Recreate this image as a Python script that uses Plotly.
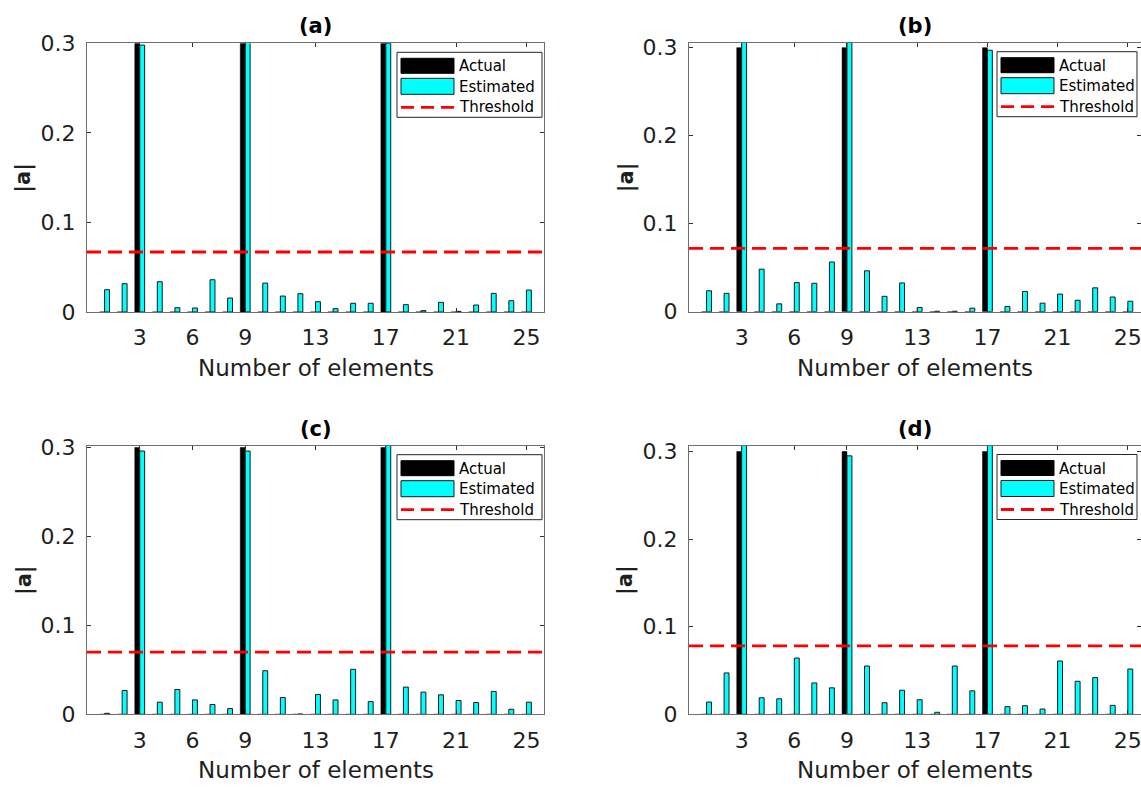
import plotly.graph_objects as go

W, H = 1141, 788

# ---- data -----------------------------------------------------------------
elements = list(range(1, 26))
actual = [0, 0, 0.3, 0, 0, 0, 0, 0, 0.3, 0, 0, 0, 0,
          0, 0, 0, 0.3, 0, 0, 0, 0, 0, 0, 0, 0]

est_a = [0.0249, 0.0316, 0.298, 0.0338, 0.0048, 0.0045, 0.0360, 0.0156, 0.302,
         0.0323, 0.0178, 0.0204, 0.0115, 0.0037, 0.0097, 0.0097, 0.300, 0.0082,
         0.0015, 0.0108, 0.0007, 0.0078, 0.0208, 0.0126, 0.0245]
est_b = [0.0238, 0.0208, 0.307, 0.0483, 0.0089, 0.0331, 0.0323, 0.0565, 0.307,
         0.0465, 0.0175, 0.0327, 0.0048, 0.0005, 0.0005, 0.0040, 0.297, 0.0060,
         0.0230, 0.0097, 0.0200, 0.0130, 0.0271, 0.0167, 0.0119]
est_c = [0.0011, 0.0268, 0.296, 0.0136, 0.0279, 0.0162, 0.0110, 0.0064, 0.296,
         0.0490, 0.0189, 0.0003, 0.0223, 0.0162, 0.0506, 0.0143, 0.304, 0.0306,
         0.0249, 0.0219, 0.0155, 0.0132, 0.0257, 0.0057, 0.0136]
est_d = [0.0140, 0.0472, 0.309, 0.0189, 0.0177, 0.0642, 0.0358, 0.0302, 0.295,
         0.0551, 0.0132, 0.0275, 0.0166, 0.0023, 0.0551, 0.0268, 0.309, 0.0087,
         0.0098, 0.0060, 0.0608, 0.0377, 0.0419, 0.0102, 0.0517]

thresholds = [0.067, 0.072, 0.070, 0.078]
panel_titles = ["(a)", "(b)", "(c)", "(d)"]
estimates = [est_a, est_b, est_c, est_d]

x_ticks = [3, 6, 9, 13, 17, 21, 25]
y_ticks = [0, 0.1, 0.2, 0.3]
y_ticktext = ["0", "0.1", "0.2", "0.3"]
y_tops = [0.3, 0.3056, 0.302, 0.3068]
x_ends = [26, 25.75, 26, 25.75]

# axes boxes in pixels: left, right, top, bottom
boxes = [(87, 544, 43.3, 312.0),
         (689, 1141, 42.7, 311.7),
         (87, 544, 445.7, 714.3),
         (689, 1141, 445.5, 714.3)]
# legend boxes in pixels: left, width
legend_boxes = [(397, 145), (997, 140), (397, 145), (997, 140)]

FONT = "DejaVu Sans"
TXT = "#1f1f1f"
AX = "#6e6e6e"


def px_x(p):
    return p / W


def px_y(p):
    return 1 - p / H


fig = go.Figure()
shapes = []
annotations = []

for i in range(4):
    xa = "x" if i == 0 else f"x{i + 1}"
    ya = "y" if i == 0 else f"y{i + 1}"
    left, right, top, bottom = boxes[i]

    fig.add_trace(go.Bar(
        x=elements, y=actual, xaxis=xa, yaxis=ya, name="Actual",
        marker=dict(color="#000000", line=dict(color="#000000", width=0.5)),
        showlegend=False))
    fig.add_trace(go.Bar(
        x=elements, y=estimates[i], xaxis=xa, yaxis=ya, name="Estimated",
        marker=dict(color="#00FFFF", line=dict(color="#1a1a1a", width=1)),
        showlegend=False))
    fig.add_trace(go.Scatter(
        x=[0, 26], y=[thresholds[i], thresholds[i]], xaxis=xa, yaxis=ya,
        mode="lines", name="Threshold",
        line=dict(color="#FF0000", width=2.8, dash="14px,7px"),
        showlegend=False))

    axis_common = dict(
        showline=True, linecolor=AX, linewidth=1, mirror="ticks",
        ticks="inside", ticklen=4, tickcolor="#333333", tickwidth=1,
        showgrid=False, zeroline=False, automargin=False,
        ticklabeloverflow="allow",
        tickfont=dict(family=FONT, size=22, color=TXT),
    )
    fig.layout[xa.replace("x", "xaxis")] = dict(
        domain=[px_x(left), min(px_x(right), 1.0)],
        range=[0, x_ends[i]], tickvals=x_ticks, anchor=ya,
        ticklabelstandoff=6, **axis_common)
    fig.layout[ya.replace("y", "yaxis")] = dict(
        domain=[px_y(bottom), px_y(top)],
        range=[0, y_tops[i]], tickvals=y_ticks, ticktext=y_ticktext,
        anchor=xa, ticklabelstandoff=6, **axis_common)

    cx = (left + min(right, W)) / 2
    if i % 2 == 1:
        cx = 915
    # panel title
    annotations.append(dict(
        text=f"<b>{panel_titles[i]}</b>", x=px_x(cx), y=px_y(top - 17),
        xref="paper", yref="paper", showarrow=False,
        font=dict(family=FONT, size=21, color="#000000"),
        xanchor="center", yanchor="middle"))
    # x label
    annotations.append(dict(
        text="Number of elements", x=px_x(cx), y=px_y(bottom + 56),
        xref="paper", yref="paper", showarrow=False,
        font=dict(family=FONT, size=23, color=TXT),
        xanchor="center", yanchor="middle"))
    # y label
    annotations.append(dict(
        text="<b>|a|</b>", x=px_x(left - 63), y=px_y((top + bottom) / 2),
        xref="paper", yref="paper", showarrow=False, textangle=-90,
        font=dict(family=FONT, size=21, color=TXT),
        xanchor="center", yanchor="middle"))

    # legend box
    lx0, lw = legend_boxes[i]
    ly0 = top + 9
    shapes.append(dict(type="rect", xref="paper", yref="paper",
                       x0=px_x(lx0), x1=px_x(lx0 + lw),
                       y0=px_y(ly0), y1=px_y(ly0 + 65),
                       line=dict(color="#262626", width=1), fillcolor="white"))
    shapes.append(dict(type="rect", xref="paper", yref="paper",
                       x0=px_x(lx0 + 4), x1=px_x(lx0 + 57),
                       y0=px_y(ly0 + 6), y1=px_y(ly0 + 21),
                       line=dict(color="#000000", width=1), fillcolor="#000000"))
    shapes.append(dict(type="rect", xref="paper", yref="paper",
                       x0=px_x(lx0 + 4), x1=px_x(lx0 + 57),
                       y0=px_y(ly0 + 26), y1=px_y(ly0 + 42),
                       line=dict(color="#1a1a1a", width=1), fillcolor="#00FFFF"))
    shapes.append(dict(type="line", xref="paper", yref="paper",
                       x0=px_x(lx0 + 4), x1=px_x(lx0 + 57),
                       y0=px_y(ly0 + 55), y1=px_y(ly0 + 55),
                       line=dict(color="#FF0000", width=2.8, dash="13px,7px")))
    for label, dy in (("Actual", 14), ("Estimated", 34.5), ("Threshold", 55)):
        annotations.append(dict(
            text=label, x=px_x(lx0 + 60), y=px_y(ly0 + dy),
            xref="paper", yref="paper", showarrow=False,
            font=dict(family=FONT, size=15, color="#000000"),
            xanchor="left", yanchor="middle"))

fig.update_layout(
    width=W, height=H,
    margin=dict(l=0, r=0, t=0, b=0, autoexpand=False),
    paper_bgcolor="white", plot_bgcolor="white",
    barmode="group", bargap=0.44, bargroupgap=0,
    shapes=shapes, annotations=annotations,
    showlegend=False,
)

fig.write_html("out.html")
